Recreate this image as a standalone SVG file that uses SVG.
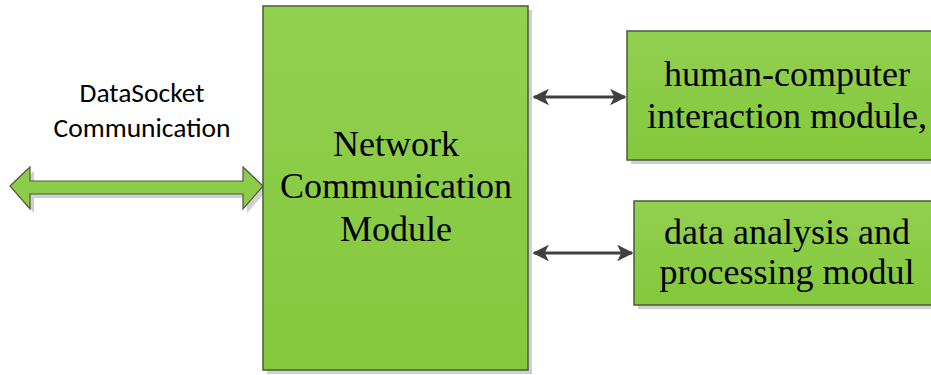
<svg xmlns="http://www.w3.org/2000/svg" width="931" height="375" viewBox="0 0 931 375">
<style>
.box{fill:url(#g);stroke:#4a5a3a;stroke-width:1.5}
.sh{fill:#cfcfcf}
.serif{font-family:"Liberation Serif","Times New Roman",serif;font-size:36px;fill:#000;text-anchor:middle}
.sans{font-family:Carlito,"Liberation Sans",Arial,sans-serif;font-size:27.5px;fill:#000;text-anchor:middle}
.conn{stroke:#404040;stroke-width:3;fill:none}
</style>
<defs>
<linearGradient id="g" x1="0" y1="0" x2="0" y2="1">
<stop offset="0" stop-color="#92d050"/>
<stop offset="1" stop-color="#84c83c"/>
</linearGradient>
<marker id="ah" viewBox="0 0 10 10" refX="9" refY="5" markerWidth="5.5" markerHeight="5.5" orient="auto-start-reverse" markerUnits="strokeWidth">
<path d="M0,0 L10,5 L0,10 L2.5,5 Z" fill="#404040"/>
</marker>
</defs>
<text class="sans" x="142" y="102">DataSocket</text>
<text class="sans" x="142" y="137">Communication</text>
<g id="datasocket-arrow">
<path class="sh" d="M14,190 L34,171 L34,185 L247,185 L247,171 L267,190 L247,213 L247,198 L34,198 L34,213 Z"/>
<path d="M10,186 L30,167 L30,181 L243,181 L243,167 L263,186 L243,209 L243,194 L30,194 L30,209 Z" fill="#8dcc48" stroke="#4a5a3a" stroke-width="1.2"/>
</g>
<g id="network">
<rect class="sh" x="267" y="10" width="265" height="364"/>
<rect class="box" x="263" y="6" width="265" height="364"/>
<text class="serif" x="396" y="156">Network</text>
<text class="serif" x="396" y="198">Communication</text>
<text class="serif" x="396" y="241">Module</text>
</g>
<g id="hci">
<rect class="sh" x="631" y="35" width="310" height="129"/>
<rect class="box" x="627" y="31" width="310" height="129"/>
<text class="serif" x="787" y="86">human-computer</text>
<text class="serif" x="787" y="128">interaction module,</text>
</g>
<g id="dap">
<rect class="sh" x="638" y="205" width="300" height="104"/>
<rect class="box" x="634" y="201" width="300" height="104"/>
<text class="serif" x="787" y="244">data analysis and</text>
<text class="serif" x="787" y="284">processing modul</text>
</g>
<g id="connectors">
<line class="conn" x1="534" y1="97" x2="625" y2="97" marker-start="url(#ah)" marker-end="url(#ah)"/>
<line class="conn" x1="534" y1="253" x2="632" y2="253" marker-start="url(#ah)" marker-end="url(#ah)"/>
</g>
</svg>
